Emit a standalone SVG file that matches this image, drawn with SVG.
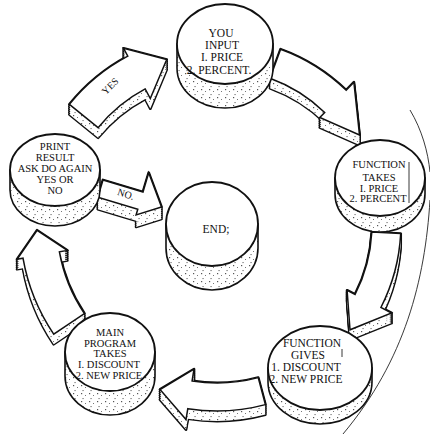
<svg xmlns="http://www.w3.org/2000/svg" xmlns:xlink="http://www.w3.org/1999/xlink" width="430" height="434" viewBox="0 0 430 434">
<style>
.s{fill:none;stroke:#111;stroke-width:2.8;stroke-linejoin:round}
.f{fill:url(#st);stroke:none}
.top{fill:#fff;stroke:#111;stroke-width:1.5;stroke-linejoin:miter}
.side{fill:url(#st);stroke:#111;stroke-width:1.6}
.face{fill:#fff;stroke:#111;stroke-width:1.8}
text{font-family:"Liberation Serif","DejaVu Serif",serif;fill:#111;text-anchor:middle}
.mark{stroke:#222;stroke-width:0.9;fill:none}
</style>
<defs>
<pattern id="st" width="8" height="8" patternUnits="userSpaceOnUse">
<rect width="8" height="8" fill="#fff"/>
<rect x="1" y="1" width="1.2" height="1.2" fill="#555"/>
<rect x="5" y="3" width="1" height="1" fill="#777"/>
<rect x="2.5" y="6" width="1.1" height="1.1" fill="#666"/>
</pattern>
<path id="a1" d="M69.4,104.4 A190,190 0 0,1 127.8,56.2 L123.6,48.3 L166.7,59.5 L150.3,98.6 L145.2,88.9 A153,153 0 0,0 98.1,127.7 Z"/>
<path id="a2" d="M280.6,49.2 A186,186 0 0,1 346.2,90.2 L353.9,82.3 L359.5,135 L319.8,117.5 L324.7,112.5 A155,155 0 0,0 270,78.3 Z"/>
<path id="a3" d="M400.7,233.6 A184,184 0 0,1 380.9,307.5 L391.6,313 L350,329.8 L347.1,290.3 L355.1,294.4 A155,155 0 0,0 371.8,232.1 Z"/>
<path id="a4" d="M265.4,404.6 A187,187 0 0,1 187.8,408.7 L186,419.6 L160,389.5 L194,369.2 L192.1,381 A159,159 0 0,0 258.2,377.6 Z"/>
<path id="a5" d="M53.7,334.2 A197,197 0 0,1 23,258.2 L17.1,259.2 L37.1,230.3 L67.3,250.4 L59.4,251.8 A160,160 0 0,0 84.4,313.5 Z"/>
<path id="a6" d="M103,180 L143,192 L148.7,172.8 L161.5,206.9 L136.1,214.9 L137.8,209.2 L97.8,197.2 Z"/>
<g id="e1"><use href="#a1"/><use href="#a1" y="2"/><use href="#a1" y="4"/><use href="#a1" y="6"/><use href="#a1" y="8"/><use href="#a1" y="10"/></g>
<g id="e2"><use href="#a2"/><use href="#a2" y="2"/><use href="#a2" y="4"/><use href="#a2" y="6"/><use href="#a2" y="8"/><use href="#a2" y="10"/></g>
<g id="e3"><use href="#a3"/><use href="#a3" y="2"/><use href="#a3" y="4"/><use href="#a3" y="6"/><use href="#a3" y="8"/><use href="#a3" y="10"/></g>
<g id="e4"><use href="#a4"/><use href="#a4" y="2"/><use href="#a4" y="4"/><use href="#a4" y="6"/><use href="#a4" y="8"/><use href="#a4" y="10"/></g>
<g id="e5"><use href="#a5"/><use href="#a5" y="2"/><use href="#a5" y="4"/><use href="#a5" y="6"/><use href="#a5" y="8"/><use href="#a5" y="10"/></g>
<g id="e6"><use href="#a6"/><use href="#a6" y="2"/><use href="#a6" y="4"/><use href="#a6" y="6"/><use href="#a6" y="8"/><use href="#a6" y="10"/><use href="#a6" y="12"/></g>
</defs>
<rect width="430" height="434" fill="#fff"/>
<path class="mark" d="M410,110 C422,130 428,152 430,172 M430,200 C425,280 405,360 343,434"/>
<g id="connectors">
<g id="arrow-yes"><use href="#e1" class="s"/><use href="#e1" class="f"/><use href="#a1" class="top"/>
<text font-size="10" transform="translate(110,86) rotate(-45)" y="3.5">YES</text></g>
<g id="arrow-input-function"><use href="#e2" class="s"/><use href="#e2" class="f"/><use href="#a2" class="top"/></g>
<g id="arrow-takes-gives"><use href="#e3" class="s"/><use href="#e3" class="f"/><use href="#a3" class="top"/></g>
<g id="arrow-gives-main"><use href="#e4" class="s"/><use href="#e4" class="f"/><use href="#a4" class="top"/></g>
<g id="arrow-main-print"><use href="#e5" class="s"/><use href="#e5" class="f"/><use href="#a5" class="top"/></g>
<g id="arrow-no"><use href="#e6" class="s"/><use href="#e6" class="f"/><use href="#a6" class="top"/>
<text font-size="10" transform="translate(126,194) rotate(18)" y="3.5">NO.</text></g>
</g>
<g id="node-input">
<path class="side" d="M177,44 L177,68 A48,40 0 0,0 273,68 L273,44 Z"/>
<ellipse class="face" cx="225" cy="44" rx="48" ry="40"/>
<text font-size="11.5"><tspan x="221" y="37">YOU</tspan><tspan x="222" y="49">INPUT</tspan><tspan x="222" y="61">I. PRICE</tspan><tspan x="219" y="73.5">2. PERCENT.</tspan></text>
</g>
<g id="node-function-takes">
<path class="side" d="M335,178 L335,194 A45,38 0 0,0 425,194 L425,178 Z"/>
<ellipse class="face" cx="380" cy="178" rx="45" ry="38"/>
<text font-size="10.5"><tspan x="379" y="168">FUNCTION</tspan><tspan x="379" y="180.5">TAKES</tspan><tspan x="379" y="191.5">I. PRICE</tspan><tspan x="378" y="202">2. PERCENT</tspan></text>
<path class="mark" d="M409,162 L409,203"/>
</g>
<g id="node-function-gives">
<path class="side" d="M268,368 L268,382 A52,42 0 0,0 372,382 L372,368 Z"/>
<ellipse class="face" cx="320" cy="368" rx="52" ry="42"/>
<text font-size="11.5"><tspan x="312" y="347">FUNCTION</tspan><tspan x="308" y="359">GIVES</tspan><tspan x="306" y="371">1. DISCOUNT</tspan><tspan x="306" y="383">2. NEW PRICE</tspan></text>
<path class="mark" d="M342,349 L342,357"/>
</g>
<g id="node-main">
<path class="side" d="M65,352 L65,376 A45,39 0 0,0 155,376 L155,352 Z"/>
<ellipse class="face" cx="110" cy="352" rx="45" ry="39"/>
<text font-size="10.5"><tspan x="110" y="335.5">MAIN</tspan><tspan x="110" y="346.5">PROGRAM</tspan><tspan x="110" y="357">TAKES</tspan><tspan x="109" y="367.5">I. DISCOUNT</tspan><tspan x="109" y="379">2. NEW PRICE</tspan></text>
</g>
<g id="node-print">
<path class="side" d="M10,170 L10,190 A45,36 0 0,0 100,190 L100,170 Z"/>
<ellipse class="face" cx="55" cy="170" rx="45" ry="36"/>
<text font-size="10.5"><tspan x="55" y="150">PRINT</tspan><tspan x="55" y="161">RESULT</tspan><tspan x="55" y="172">ASK DO AGAIN</tspan><tspan x="55" y="183">YES OR</tspan><tspan x="55" y="193.5">NO</tspan></text>
</g>
<g id="node-end">
<path class="side" d="M166,224 L166,248 A46,42 0 0,0 258,248 L258,224 Z"/>
<ellipse class="face" cx="212" cy="224" rx="46" ry="42"/>
<text font-size="11.5" x="216" y="233">END;</text>
</g>
</svg>
